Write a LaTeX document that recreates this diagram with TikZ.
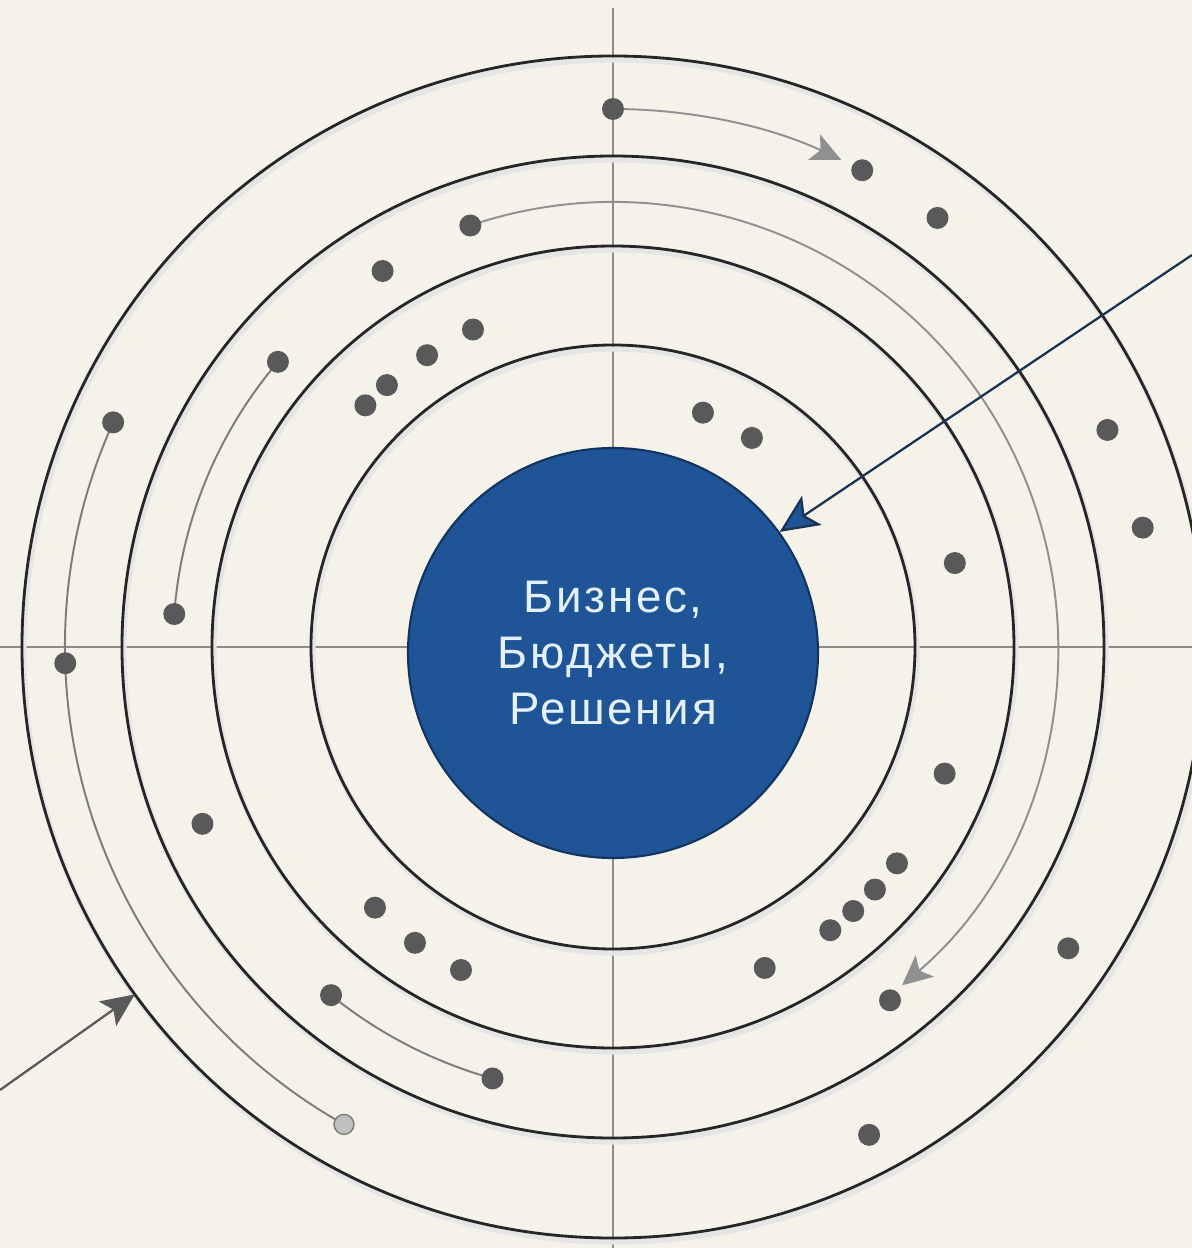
\documentclass[tikz,border=0pt]{standalone}
\usepackage{fontspec}
\setmainfont{Liberation Sans}
\usetikzlibrary{arrows.meta}

\definecolor{paper}{HTML}{F5F2EA}
\definecolor{ringline}{HTML}{262626}
\definecolor{coreblue}{HTML}{1F5596}
\definecolor{coreedge}{HTML}{12345E}
\definecolor{coretext}{HTML}{E4F1FA}
\definecolor{dotgray}{HTML}{595959}
\definecolor{orbitgray}{HTML}{7C7C7C}
\definecolor{axisgray}{HTML}{8E8C84}
\definecolor{pointer}{HTML}{1A3352}

\begin{document}
\begin{tikzpicture}[x=0.2mm, y=0.2mm, >=Stealth,
  ring/.style={circle, draw=ringline, line width=1.6pt, inner sep=0pt, outer sep=0pt},
  ringshade/.style={draw=black!10, line width=3pt},
  dot/.style={circle, fill=dotgray, inner sep=0pt, minimum size=0.44cm},
  orbit/.style={draw=orbitgray, line width=1.1pt},
  axis/.style={draw=axisgray, line width=1.4pt}]

  % --- 1. 背景と軸 ---
  \useasboundingbox[fill=paper] (-613,-601) rectangle (579,647);
  \draw[axis] (-613,0) -- (579,0);
  \draw[axis] (0,639) -- (0,-601);

  % --- 2. リング (影つき) ---
  \draw[ringshade] (2,-4) circle (591);
  \draw[ringshade] (2,-4) circle (491);
  \draw[ringshade] (2,-4) circle (401);
  \draw[ringshade] (2,-4) circle (302);
  \node[ring, minimum size=23.64cm] (r4) at (0,0) {};
  \node[ring, minimum size=19.64cm] (r3) at (0,0) {};
  \node[ring, minimum size=16.04cm] (r2) at (0,0) {};
  \node[ring, minimum size=12.08cm] (r1) at (0,0) {};

  % --- 3. 中心 ---
  \node[circle, fill=coreblue, draw=coreedge, line width=1.2pt, minimum size=8.2cm,
        inner sep=0pt, text=coretext, align=center,
        font=\fontsize{26}{32}\selectfont\addfontfeatures{LetterSpace=6}]
        (core) at (0,-6) {Бизнес,\\Бюджеты,\\Решения};

  % --- 4. 軌道の弧 ---
  \coordinate (t1) at (90:538);
  \coordinate (m1) at (108.7:445);
  \coordinate (l1) at (155.8:548);
  \coordinate (l2) at (181.7:548);
  \coordinate (l3) at (240.6:548);
  \coordinate (k1) at (139.6:440);
  \coordinate (k2) at (175.7:440);
  \coordinate (s1) at (231:448);
  \coordinate (s2) at (254.4:448);

  \draw[orbit, draw=orbitgray!85, -{Stealth[length=17pt, width=16pt, inset=4pt]}]
        (t1) arc[start angle=90, end angle=64.9, radius=538];
  \draw[orbit, draw=orbitgray!85, -{Stealth[length=17pt, width=16pt, inset=4pt]}]
        (m1) arc[start angle=108.7, end angle=-49.5, radius=445];
  \draw[orbit] (l1) arc[start angle=155.8, end angle=240.6, radius=548];
  \draw[orbit] (k1) arc[start angle=139.6, end angle=175.7, radius=440];
  \draw[orbit] (s1) arc[start angle=231, end angle=254.4, radius=448];

  % --- 5. 点 ---
  % 外側の帯
  \node[dot] (t1) at (t1) {};
  \node[dot] (t2) at (62.4:538) {};
  \node[dot] (p1) at (52.9:538) {};
  \node[dot] (p2) at (23.7:540) {};
  \node[dot] (p3) at (12.7:543) {};
  \node[dot] (p4) at (-33.5:546) {};
  \node[dot] (p5) at (-62.3:551) {};
  \node[dot] (l1) at (l1) {};
  \node[dot] (l2) at (l2) {};
  \node[circle, fill=black!25, draw=orbitgray, line width=0.8pt, inner sep=0pt,
        minimum size=0.4cm] (l3) at (l3) {};

  % 中間の帯
  \node[dot] (m1) at (m1) {};
  \node[dot] (m2) at (-51.9:449) {};
  \node[dot] (q1) at (121.5:441) {};
  \node[dot] (k1) at (k1) {};
  \node[dot] (k2) at (k2) {};
  \node[dot] (q2) at (203.3:447) {};
  \node[dot] (s1) at (s1) {};
  \node[dot] (s2) at (s2) {};

  % 内側の帯
  \node[dot] (n1) at (113.8:347) {};
  \node[dot] (n2) at (122.5:346) {};
  \node[dot] (n3) at (130.8:346) {};
  \node[dot] (n4) at (135.7:346) {};
  \node[dot] (n5) at (13.8:352) {};
  \node[dot] (n6) at (-20.9:355) {};
  \node[dot] (n7) at (-37.3:357) {};
  \node[dot] (n8) at (-42.8:357) {};
  \node[dot] (n9) at (-47.7:357) {};
  \node[dot] (n10) at (-52.5:357) {};
  \node[dot] (n11) at (-64.7:355) {};
  \node[dot] (n12) at (227.6:353) {};
  \node[dot] (n13) at (236.2:356) {};
  \node[dot] (n14) at (244.8:357) {};

  % 最内の帯
  \node[dot] (c1) at (69:251) {};
  \node[dot] (c2) at (56.4:251) {};

  % --- 6. 矢印 ---
  \coordinate (bsrc) at (579,392);
  \coordinate (gsrc) at (-613,-443);
  \draw[pointer, line width=1.3pt,
        -{Stealth[length=22pt, width=20pt, inset=5pt, fill=coreblue]}]
        (bsrc) -- (core.36);
  \draw[dotgray, line width=1.3pt, -{Stealth[length=19pt, width=17pt, inset=4pt]}]
        (gsrc) -- (r4.216);

\end{tikzpicture}
\end{document}
